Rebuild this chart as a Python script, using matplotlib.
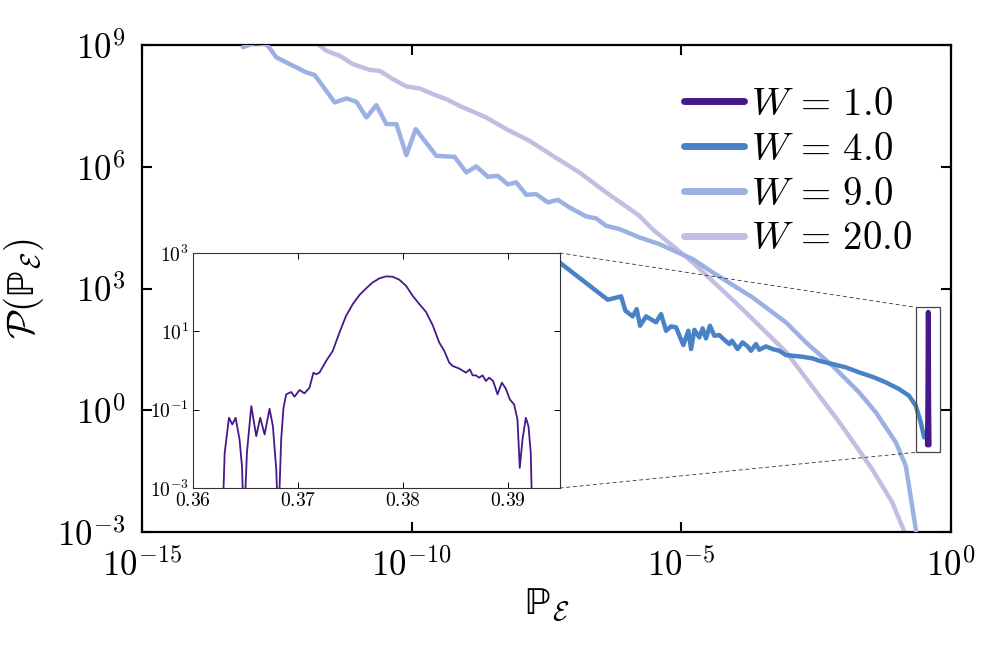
import numpy as np
import matplotlib
matplotlib.use("Agg")
import matplotlib.pyplot as plt
from matplotlib.patches import Rectangle, ConnectionPatch

plt.rcParams['mathtext.fontset'] = 'cm'
plt.rcParams['font.family'] = ['DejaVu Serif']

# ---------------- data (log10 of the values) ----------------
labels = [r'$W\,=\,1.0$', r'$W\,=\,4.0$', r'$W\,=\,9.0$', r'$W\,=\,20.0$']
colors = ['#46198a', '#4a82c8', '#9db0e3', '#c3bde3']

# W = 1.0 main (coarse) histogram
w1_main_x = [0.364, 0.368, 0.372, 0.376, 0.378, 0.381, 0.385, 0.389, 0.392]
w1_main_y = [0.14, 0.5, 3.0, 80.0, 260.0, 120.0, 2.0, 0.4, 0.14]

# W = 4.0
w4_log10_x = [-7.32, -7.259, -6.365, -6.117, -6.037, -5.902, -5.828, -5.765, -5.654, -5.469,
              -5.376, -5.283, -5.191, -5.098, -4.963, -4.870, -4.820, -4.759, -4.667, -4.606,
              -4.543, -4.469, -4.389, -4.296, -4.204, -4.111, -4.061, -3.957, -3.865, -3.772,
              -3.709, -3.617, -3.556, -3.432, -3.309, -3.185, -3.061, -2.939, -2.754, -2.569,
              -2.444, -2.198, -1.950, -1.704, -1.457, -1.209, -0.963, -0.778, -0.654, -0.561,
              -0.500]
w4_log10_y = [3.70, 3.645, 2.724, 2.807, 2.453, 2.315, 2.494, 2.083, 2.315, 2.167,
              2.371, 1.960, 2.068, 2.043, 1.607, 1.960, 1.509, 1.984, 1.797, 2.019,
              1.772, 2.083, 1.837, 1.854, 1.738, 1.632, 1.714, 1.509, 1.674, 1.575,
              1.467, 1.632, 1.491, 1.575, 1.509, 1.467, 1.361, 1.344, 1.319, 1.280,
              1.220, 1.139, 1.058, 0.934, 0.826, 0.688, 0.523, 0.358, 0.112, -0.298,
              -0.667]

# W = 9.0
w9_log10_x = [-13.130, -12.907, -12.691, -12.506, -12.259, -11.950, -11.796, -11.426, -11.209,
              -11.024, -10.839, -10.654, -10.469, -10.283, -10.098, -9.926, -9.543, -9.204,
              -8.987, -8.802, -8.587, -8.402, -8.217, -8.061, -7.876, -7.691, -7.476, -7.291,
              -7.074, -6.765, -6.580, -6.394, -6.148, -5.778, -5.407, -4.791, -4.420, -3.926,
              -3.680, -3.061, -2.691, -2.198, -1.704, -1.394, -1.024, -0.839, -0.654, -0.611]
w9_log10_y = [8.951, 9.049, 9.025, 8.697, 8.532, 8.327, 8.261, 7.588, 7.687,
              7.603, 7.218, 7.521, 7.053, 7.053, 6.289, 6.930, 6.272, 6.247,
              5.863, 6.011, 5.755, 5.779, 5.567, 5.617, 5.311, 5.328, 5.124, 5.188,
              5.000, 4.779, 4.730, 4.547, 4.466, 4.261, 4.096, 3.726, 3.399, 2.987,
              2.783, 2.167, 1.674, 1.097, 0.442, -0.051, -0.790, -1.367, -2.927, -3.666]

# W = 20.0
w20_log10_x = [-11.981, -11.735, -11.580, -11.333, -11.087, -10.778, -10.593, -10.346, -10.098,
               -9.852, -9.606, -9.357, -9.111, -8.617, -8.246, -7.815, -7.383, -6.889, -6.394,
               -5.778, -5.537, -4.796, -3.926, -3.056, -2.074, -1.463, -1.093, -0.870, -0.741]
w20_log10_y = [9.197, 9.025, 8.860, 8.736, 8.532, 8.391, 8.367, 8.162, 7.982,
               7.933, 7.793, 7.669, 7.504, 7.218, 6.930, 6.642, 6.272, 5.863, 5.370,
               4.793, 4.466, 3.653, 2.568, 1.435, -0.290, -1.449, -2.262, -2.977, -3.666]

# W = 1.0 inset (fine histogram); 1e-4 marks values below the inset range
w1_inset_x = [0.36279, 0.36302, 0.36343, 0.36375, 0.36406, 0.36444, 0.36467, 0.36486,
              0.36514, 0.36556, 0.36603, 0.36641, 0.36683, 0.36730, 0.36762, 0.36794,
              0.36813, 0.36841, 0.36863, 0.36889, 0.36937, 0.36968, 0.37016, 0.37063,
              0.37111, 0.37149, 0.37175, 0.37206, 0.37270, 0.37333, 0.37397, 0.37460,
              0.37524, 0.37587, 0.37651, 0.37714, 0.37778, 0.37841, 0.37905, 0.37968,
              0.38032, 0.38095, 0.38159, 0.38222, 0.38286, 0.38349, 0.38397, 0.38444,
              0.38476, 0.38540, 0.38603, 0.38641, 0.38667, 0.38698, 0.38730, 0.38762,
              0.38794, 0.38825, 0.38863, 0.38905, 0.38946, 0.38984, 0.39022, 0.39063,
              0.39095, 0.39117, 0.39143, 0.39175, 0.39200, 0.39222, 0.39238]
w1_inset_y = [0.0001, 0.0079, 0.0622, 0.0420, 0.0622, 0.0173, 0.0036, 0.0001,
              0.0079, 0.1236, 0.0211, 0.0622, 0.0233, 0.1057, 0.0380, 0.0030,
              0.0001, 0.0173, 0.112, 0.246, 0.283, 0.214, 0.318, 0.261,
              0.364, 0.881, 0.800, 0.881, 1.754, 3.16, 9.31, 24.9,
              49.5, 84.1, 124.7, 177.4, 224.9, 252.9, 247.7, 207.5,
              145.9, 80.9, 49.5, 31.5, 14.4, 5.16, 3.16, 1.59,
              1.31, 1.12, 0.881, 1.07, 0.753, 0.753, 0.656, 0.753,
              0.540, 0.656, 0.540, 0.246, 0.489, 0.344, 0.183, 0.136,
              0.0564, 0.00327, 0.0173, 0.0622, 0.0380, 0.0079, 0.0001]

main_xticks = [1e-15, 1e-10, 1e-5, 1e0]
main_xticklabels = [r'$10^{-15}$', r'$10^{-10}$', r'$10^{-5}$', r'$10^{0}$']
main_yticks = [1e-3, 1e0, 1e3, 1e6, 1e9]
main_yticklabels = [r'$10^{-3}$', r'$10^{0}$', r'$10^{3}$', r'$10^{6}$', r'$10^{9}$']
inset_xticks = [0.36, 0.37, 0.38, 0.39]
inset_xticklabels = [r'$0.36$', r'$0.37$', r'$0.38$', r'$0.39$']
inset_yticks = [1e-3, 1e-1, 1e1, 1e3]
inset_yticklabels = [r'$10^{-3}$', r'$10^{-1}$', r'$10^{1}$', r'$10^{3}$']

# ---------------- figure ----------------
fig = plt.figure(figsize=(9.97, 6.64), dpi=100)
ax = fig.add_axes([0.1424, 0.1988, 0.8115, 0.7332])
ax.set_xscale('log')
ax.set_yscale('log')

ax.plot(w1_main_x, w1_main_y, color=colors[0], lw=3.6, label=labels[0],
        solid_capstyle='round', zorder=5)
ax.plot(10.0 ** np.asarray(w4_log10_x), 10.0 ** np.asarray(w4_log10_y), color=colors[1],
        lw=3.2, label=labels[1], solid_capstyle='round', zorder=4)
ax.plot(10.0 ** np.asarray(w9_log10_x), 10.0 ** np.asarray(w9_log10_y), color=colors[2],
        lw=3.2, label=labels[2], solid_capstyle='round', zorder=3)
ax.plot(10.0 ** np.asarray(w20_log10_x), 10.0 ** np.asarray(w20_log10_y), color=colors[3],
        lw=3.2, label=labels[3], solid_capstyle='round', zorder=2)

ax.set_xlim(1e-15, 1e0)
ax.set_ylim(1e-3, 1e9)
ax.set_xticks(main_xticks)
ax.set_xticklabels(main_xticklabels)
ax.set_yticks(main_yticks)
ax.set_yticklabels(main_yticklabels)
ax.minorticks_off()
ax.tick_params(which='major', direction='in', length=7, width=1.5, top=True, right=True,
               labelsize=25, pad=12)
for s in ax.spines.values():
    s.set_linewidth(1.6)

ax.set_xlabel(r'$\mathrm{ℙ}_{\mathcal{E}}$', fontsize=28, labelpad=2)
ax.set_ylabel(r'$\mathcal{P}(\mathrm{ℙ}_{\mathcal{E}})$', fontsize=28, labelpad=8)

leg = ax.legend(loc='upper right', bbox_to_anchor=(0.972, 0.948), frameon=False,
                fontsize=28, handlelength=1.55, handletextpad=0.18, labelspacing=0.2,
                borderaxespad=0.0, borderpad=0.4)
for h in leg.get_lines():
    h.set_linewidth(5)
    h.set_solid_capstyle('round')

# zoom rectangle on the main axes
rect = Rectangle((0.222, 0.092), 0.634 - 0.222, 344 - 0.092, fill=False,
                 edgecolor='#444444', lw=0.9, zorder=6)
ax.add_patch(rect)

# ---------------- inset ----------------
axin = fig.add_axes([0.1936, 0.265, 0.368, 0.354])
axin.set_zorder(10)
axin.set_facecolor('white')
axin.set_yscale('log')
axin.plot(w1_inset_x, w1_inset_y, color=colors[0], lw=1.3)
axin.set_xlim(0.36, 0.395)
axin.set_ylim(1e-3, 1e3)
axin.set_xticks(inset_xticks)
axin.set_xticklabels(inset_xticklabels)
axin.set_yticks(inset_yticks)
axin.set_yticklabels(inset_yticklabels)
axin.minorticks_off()
axin.tick_params(which='major', direction='in', length=4, width=0.7, top=True, right=True,
                 labelsize=14, pad=3)
for s in axin.spines.values():
    s.set_linewidth(0.8)
    s.set_edgecolor('#333333')

# connector lines from inset to zoom rectangle
for yin, ymain in [(1.0, 344), (0.0, 0.092)]:
    con = ConnectionPatch(xyA=(1.0, yin), coordsA=axin.transAxes,
                          xyB=(0.222, ymain), coordsB=ax.transData,
                          linestyle=(0, (4, 4)), lw=0.6, color='#333333')
    fig.add_artist(con)

fig.savefig('out.png', dpi=100)
